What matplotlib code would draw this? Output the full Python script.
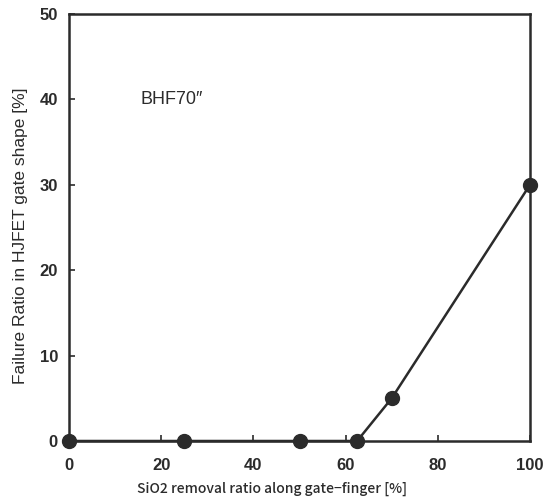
import matplotlib.pyplot as plt

plt.rcParams["font.family"] = ["Liberation Sans", "DejaVu Sans"]

# Data
removal_ratio = [0, 25, 50, 62.5, 70, 100]
failure_ratio = [0, 0, 0, 0, 5, 30]
x_ticks = [0, 20, 40, 60, 80, 100]
y_ticks = [0, 10, 20, 30, 40, 50]

ink = "#2b2b2b"

fig = plt.figure(figsize=(5.5, 4.97), dpi=100)
ax = fig.add_axes([0.1255, 0.1127, 0.8381, 0.8591])

ax.plot(removal_ratio, failure_ratio, color=ink, linewidth=1.8,
        marker="o", markersize=10, clip_on=False, zorder=3)

ax.set_xlim(0, 100)
ax.set_ylim(0, 50)
ax.set_xticks(x_ticks)
ax.set_yticks(y_ticks)
ax.tick_params(direction="in", length=4, width=1.2, color=ink,
               labelsize=12, labelcolor=ink)
ax.tick_params(axis="x", pad=12)
ax.tick_params(axis="y", pad=8)
for lbl in ax.get_xticklabels() + ax.get_yticklabels():
    lbl.set_fontweight("bold")
for s in ax.spines.values():
    s.set_linewidth(1.8)
    s.set_color(ink)

ax.set_xlabel("SiO2 removal ratio along gate−finger [%]", fontsize=10,
              color=ink, family=["Noto Sans CJK JP", "DejaVu Sans"],
              weight="medium")
ax.xaxis.set_label_coords(0.44, -0.095)
ax.set_ylabel("Failure Ratio in HJFET gate shape [%]", fontsize=12.5,
              color=ink)
ax.yaxis.set_label_coords(-0.088, 0.48)

ax.text(15.4, 40, "BHF70″", fontsize=13, color=ink, va="center")

fig.savefig("out.png", dpi=100)
